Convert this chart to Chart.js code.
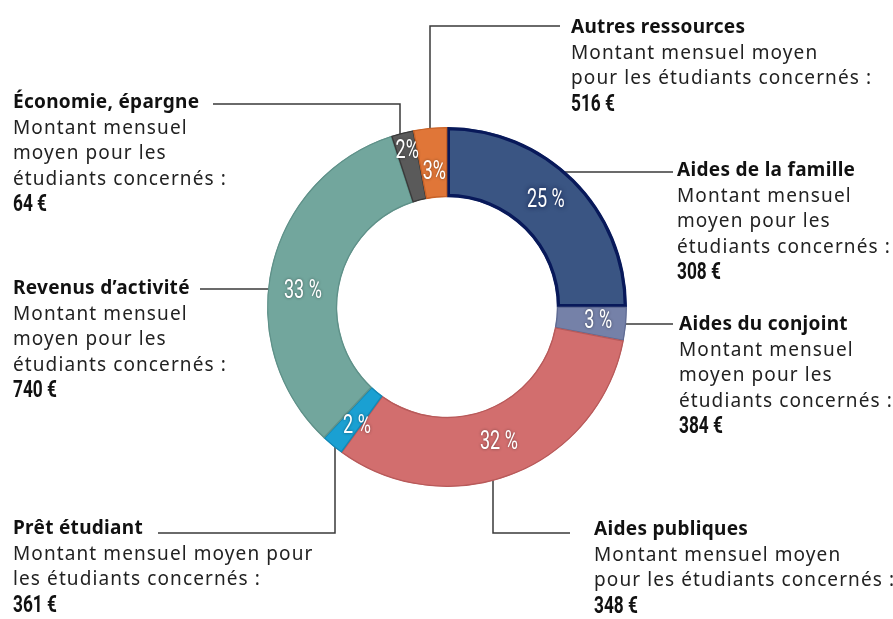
<!DOCTYPE html>
<html><head><meta charset="utf-8">
<script src="https://cdn.jsdelivr.net/npm/chart.js@4.4.0/dist/chart.umd.min.js"></script>
<style>
html,body{margin:0;padding:0;background:#fff;}
#wrap{position:relative;width:893px;height:619px;overflow:hidden;background:#fff;}
canvas{position:absolute;left:0;top:0;}
.lbl{position:absolute;font-family:"Noto Sans",sans-serif;font-size:19px;line-height:25.5px;color:#222;letter-spacing:1.1px;white-space:nowrap;}
.lbl b{font-weight:700;color:#111;letter-spacing:0.3px;}
.lbl .val{display:inline-block;font-family:Roboto,sans-serif;font-weight:700;font-size:24px;line-height:25.5px;letter-spacing:0;color:#111;transform:scaleX(0.72);transform-origin:0 50%;}
</style></head>
<body><div id="wrap"><canvas id="c" width="893" height="619"></canvas></div>
<script>
// ---- data ----
const categories = ["Aides de la famille","Aides du conjoint","Aides publiques","Prêt étudiant","Revenus d’activité","Économie, épargne","Autres ressources"];
const shares = [25, 3, 32, 2, 33, 2, 3];           // % of resources
const amounts = [308, 384, 348, 361, 740, 64, 516]; // € / month
const descLines = [
  ["Montant mensuel","moyen pour les","étudiants concernés :"],
  ["Montant mensuel","moyen pour les","étudiants concernés :"],
  ["Montant mensuel moyen","pour les étudiants concernés :"],
  ["Montant mensuel moyen pour","les étudiants concernés :"],
  ["Montant mensuel","moyen pour les","étudiants concernés :"],
  ["Montant mensuel","moyen pour les","étudiants concernés :"],
  ["Montant mensuel moyen","pour les étudiants concernés :"]
];

// ---- style / layout ----
const colors = ['#3a5583','#7581a8','#d26e6e','#1aa0d2','#72a69d','#5a5a5a','#e07638'];
const borders = ['#08195a','#5f6b93','#b85a5a','#1288b5','#5f9189','#3a3a3a','#c86228'];
const borderW = [3,1,1,1,1,1,1];
const pctSep = [' ',' ',' ',' ',' ','',''];
const radOff = [0,7,0,5,0,15,-10];
const angOff = [-2,0,0.6,-2.7,-6.6,0,0];
const labelPos = [[677,157],[679,311],[594,516],[13,515],[13,275],[13,89],[571,14]];
const leaders = [
  {pts:[[673,172]], mode:'h'},
  {pts:[[673,324]], mode:'h'},
  {pts:[[570,533],[493,533]], mode:'v'},
  {pts:[[158,533],[335,533]], mode:'v'},
  {pts:[[200,289]], mode:'h'},
  {pts:[[213,104],[400,104]], mode:'v'},
  {pts:[[560,26],[430,26]], mode:'v'}
];

// HTML labels
const wrap = document.getElementById('wrap');
categories.forEach((cat,i)=>{
  const d = document.createElement('div');
  d.className='lbl';
  d.style.left = labelPos[i][0]+'px';
  d.style.top = labelPos[i][1]+'px';
  d.innerHTML = '<b>'+cat+'</b><br>'+descLines[i].join('<br>')+'<br><span class="val">'+amounts[i]+' €</span>';
  wrap.appendChild(d);
});

const leaderPlugin = {
  id:'leaders',
  beforeDatasetsDraw(chart){
    const arc = chart.getDatasetMeta(0).data[0];
    if(!arc) return;
    const {x:cx,y:cy,outerRadius:R} = arc.getProps(['x','y','outerRadius'],true);
    const ctx = chart.ctx;
    ctx.save();
    ctx.strokeStyle='#3a3a3a'; ctx.lineWidth=1.5;
    leaders.forEach(l=>{
      const pts = l.pts.map(p=>p.slice());
      const last = pts[pts.length-1];
      const r = R-3;
      if(l.mode==='h'){
        const dy = last[1]-cy; const dx = Math.sqrt(Math.max(r*r-dy*dy,0));
        pts.push([cx + Math.sign(last[0]-cx)*dx, last[1]]);
      } else {
        const dx = last[0]-cx; const dy = Math.sqrt(Math.max(r*r-dx*dx,0));
        pts.push([last[0], cy + Math.sign(last[1]-cy)*dy]);
      }
      ctx.beginPath();
      pts.forEach((p,k)=> k?ctx.lineTo(p[0],p[1]):ctx.moveTo(p[0],p[1]));
      ctx.stroke();
    });
    ctx.restore();
  }
};

const pctPlugin = {
  id:'pct',
  afterDatasetsDraw(chart){
    const ctx = chart.ctx;
    chart.getDatasetMeta(0).data.forEach((arc,i)=>{
      const p = arc.getProps(['x','y','startAngle','endAngle','innerRadius','outerRadius'],true);
      const mid = (p.startAngle+p.endAngle)/2 + angOff[i]*Math.PI/180;
      const r = (p.innerRadius+p.outerRadius)/2 + radOff[i];
      const px = p.x + Math.cos(mid)*r, py = p.y + Math.sin(mid)*r;
      ctx.save();
      ctx.translate(px,py); ctx.scale(0.72,1);
      ctx.font = '25px Roboto,sans-serif';
      ctx.textAlign='center'; ctx.textBaseline='middle';
      ctx.shadowColor = i===0 ? 'rgba(5,15,60,0.95)' : 'rgba(0,0,0,0.45)';
      ctx.shadowBlur = i===0 ? 5 : 3;
      ctx.fillStyle='#fff';
      ctx.fillText(shares[i]+pctSep[i]+'%',0,0);
      ctx.restore();
    });
  }
};

new Chart(document.getElementById('c'),{
  type:'doughnut',
  data:{labels:categories,datasets:[{data:shares,backgroundColor:colors,borderColor:borders,borderWidth:borderW,borderAlign:'inner'}]},
  options:{
    responsive:false, devicePixelRatio:1, animation:false, events:[],
    cutout:'61%',
    layout:{padding:{left:267,right:266,top:127,bottom:132}},
    plugins:{legend:{display:false},tooltip:{enabled:false}}
  },
  plugins:[leaderPlugin,pctPlugin]
});
</script>
</body></html>
